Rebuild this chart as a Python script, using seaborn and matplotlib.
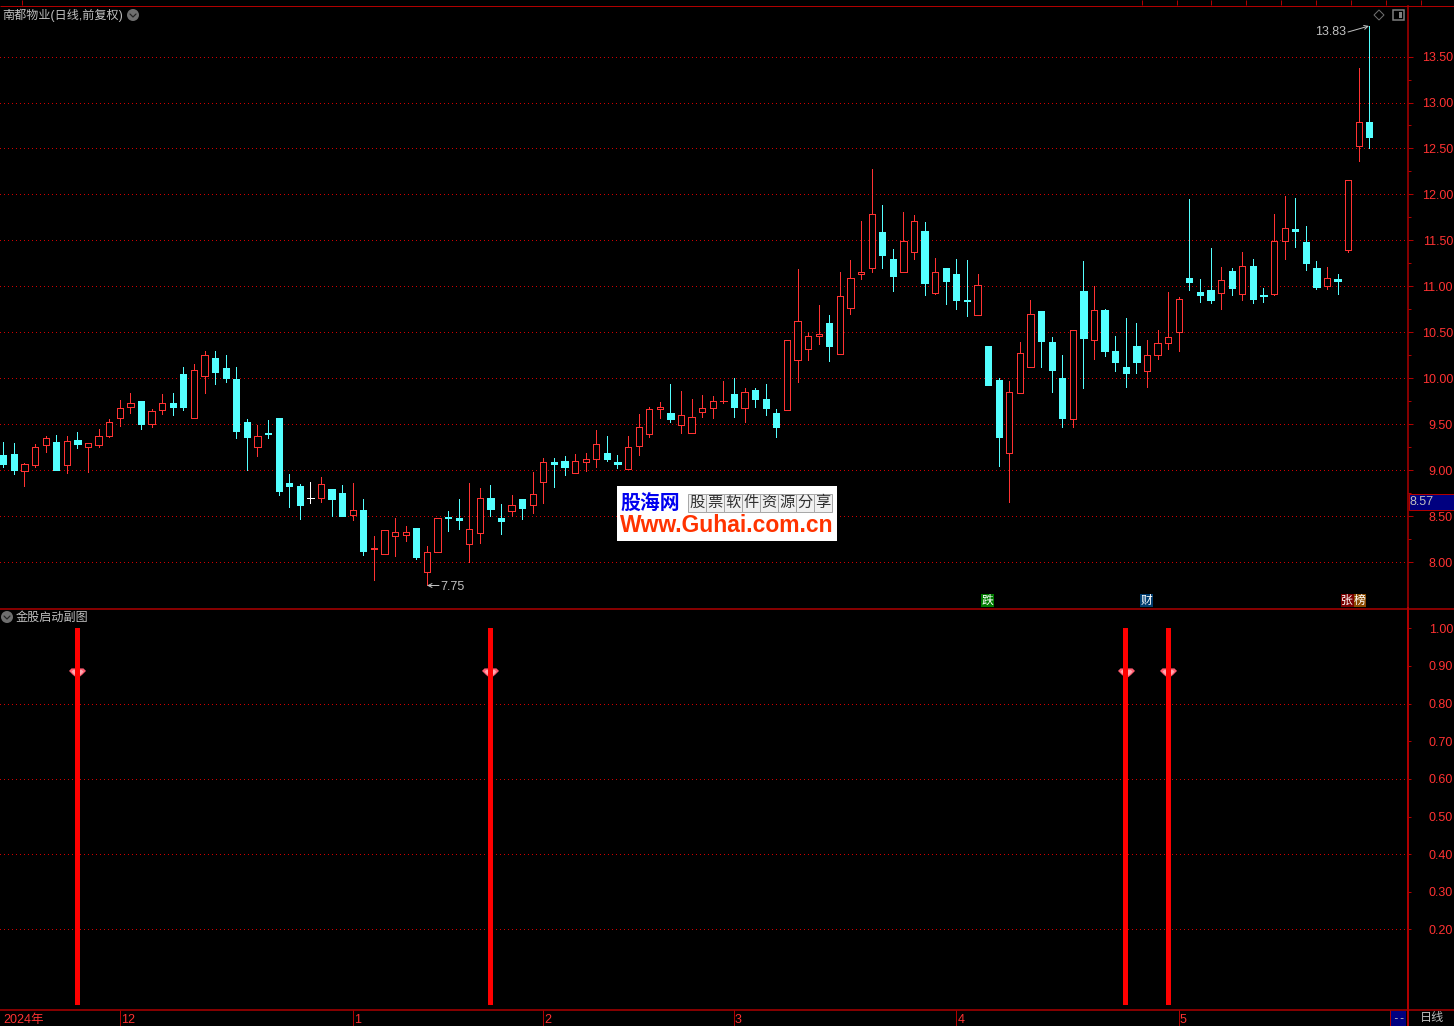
import numpy as np
import pandas as pd
import seaborn as sns
import matplotlib.pyplot as plt
from matplotlib.patches import Circle, Rectangle, Polygon
from matplotlib.path import Path

# Daily candles
OPEN = [
    9.17, 9.18, 8.99, 9.06, 9.28, 9.31, 9.06, 9.33, 9.26, 9.28,
    9.37, 9.57, 9.69, 9.75, 9.50, 9.66, 9.73, 10.05, 9.57, 10.03,
    10.22, 10.11, 9.99, 9.53, 9.25, 9.41, 9.57, 8.86, 8.83, 8.70,
    8.70, 8.80, 8.75, 8.52, 8.57, 8.15, 8.09, 8.29, 8.30, 8.38,
    7.90, 8.11, 8.49, 8.48, 8.20, 8.32, 8.70, 8.48, 8.56, 8.69,
    8.63, 8.88, 9.09, 9.10, 8.97, 9.09, 9.12, 9.19, 9.09, 9.02,
    9.27, 9.40, 9.67, 9.63, 9.49, 9.41, 9.64, 9.68, 9.75, 9.83,
    9.68, 9.88, 9.78, 9.63, 9.66, 10.20, 10.32, 10.46, 10.60, 10.27,
    10.77, 11.14, 11.20, 11.59, 11.30, 11.16, 11.37, 11.60, 10.93, 11.20,
    11.14, 10.85, 10.69, 10.35, 9.98, 9.19, 9.84, 10.13, 10.73, 10.40,
    10.00, 9.56, 10.95, 10.42, 10.74, 10.30, 10.13, 10.35, 10.08, 10.25,
    10.39, 10.51, 11.09, 10.94, 10.96, 10.93, 11.17, 10.92, 11.22, 10.91,
    10.92, 11.49, 11.63, 11.48, 11.20, 11.00, 11.08, 11.40, 12.53, 12.79,
]
CLOSE = [
    9.07, 9.01, 9.07, 9.26, 9.35, 9.00, 9.32, 9.29, 9.30, 9.38,
    9.53, 9.68, 9.73, 9.50, 9.65, 9.73, 9.69, 9.69, 10.09, 10.25,
    10.07, 10.00, 9.43, 9.36, 9.37, 9.40, 8.78, 8.83, 8.63, 8.70,
    8.85, 8.69, 8.51, 8.57, 8.13, 8.16, 8.35, 8.33, 8.33, 8.06,
    8.11, 8.48, 8.48, 8.46, 8.36, 8.70, 8.58, 8.45, 8.62, 8.59,
    8.74, 9.09, 9.07, 9.04, 9.10, 9.12, 9.29, 9.13, 9.07, 9.26,
    9.47, 9.67, 9.69, 9.56, 9.60, 9.58, 9.68, 9.75, 9.76, 9.69,
    9.85, 9.78, 9.68, 9.47, 10.42, 10.63, 10.46, 10.48, 10.35, 10.90,
    11.09, 11.16, 11.79, 11.34, 11.11, 11.49, 11.71, 11.04, 11.16, 11.06,
    10.85, 10.84, 11.02, 9.93, 9.36, 9.85, 10.28, 10.70, 10.41, 10.09,
    9.57, 10.53, 10.44, 10.74, 10.30, 10.18, 10.06, 10.18, 10.25, 10.39,
    10.45, 10.86, 11.05, 10.91, 10.85, 11.07, 10.98, 11.22, 10.86, 10.90,
    11.49, 11.64, 11.60, 11.26, 10.99, 11.09, 11.06, 12.16, 12.79, 12.63,
]
HIGH = [
    9.31, 9.30, 9.08, 9.29, 9.38, 9.39, 9.38, 9.42, 9.30, 9.45,
    9.56, 9.77, 9.84, 9.75, 9.67, 9.83, 9.84, 10.12, 10.16, 10.30,
    10.30, 10.26, 10.13, 9.56, 9.49, 9.55, 9.57, 8.96, 8.85, 8.87,
    8.93, 8.80, 8.84, 8.86, 8.69, 8.29, 8.35, 8.48, 8.40, 8.38,
    8.18, 8.48, 8.56, 8.69, 8.86, 8.81, 8.84, 8.64, 8.73, 8.69,
    8.98, 9.14, 9.14, 9.16, 9.18, 9.19, 9.44, 9.38, 9.17, 9.37,
    9.61, 9.69, 9.74, 9.94, 9.86, 9.78, 9.82, 9.81, 9.97, 10.00,
    9.90, 9.90, 9.94, 9.67, 10.42, 11.19, 10.51, 10.80, 10.69, 11.16,
    11.29, 11.71, 12.28, 11.89, 11.41, 11.81, 11.78, 11.70, 11.31, 11.20,
    11.30, 11.29, 11.14, 10.35, 10.00, 9.97, 10.40, 10.85, 10.73, 10.45,
    10.25, 10.53, 11.28, 11.01, 10.76, 10.46, 10.66, 10.60, 10.42, 10.53,
    10.94, 10.89, 11.95, 11.08, 11.42, 11.21, 11.20, 11.38, 11.30, 10.98,
    11.79, 11.98, 11.96, 11.66, 11.28, 11.21, 11.14, 12.16, 13.38, 13.83,
]
LOW = [
    9.04, 8.96, 8.83, 9.04, 9.20, 9.00, 8.97, 9.24, 8.98, 9.25,
    9.36, 9.48, 9.62, 9.45, 9.47, 9.61, 9.60, 9.66, 9.57, 9.84,
    9.94, 9.96, 9.35, 9.00, 9.16, 9.35, 8.73, 8.60, 8.47, 8.65,
    8.66, 8.51, 8.51, 8.46, 8.08, 7.81, 8.09, 8.07, 8.23, 8.04,
    7.75, 8.11, 8.34, 8.36, 8.01, 8.21, 8.50, 8.31, 8.50, 8.47,
    8.54, 8.65, 8.82, 8.95, 8.97, 8.99, 9.04, 9.10, 9.03, 9.02,
    9.17, 9.36, 9.57, 9.53, 9.41, 9.41, 9.58, 9.57, 9.73, 9.58,
    9.53, 9.69, 9.60, 9.36, 9.66, 9.96, 10.20, 10.38, 10.19, 10.27,
    10.70, 11.08, 11.16, 11.20, 10.95, 11.16, 11.30, 10.91, 10.92, 10.81,
    10.75, 10.68, 10.69, 9.93, 9.05, 8.66, 9.84, 10.13, 10.13, 9.85,
    9.47, 9.47, 9.90, 10.21, 10.24, 10.08, 9.91, 10.06, 9.91, 10.21,
    10.32, 10.30, 10.96, 10.83, 10.82, 10.75, 10.91, 10.85, 10.82, 10.83,
    10.91, 11.30, 11.43, 11.18, 10.97, 10.97, 10.92, 11.38, 12.36, 12.51,
]

# Indicator panel
SIGNAL_INDEX = [7, 46, 106, 110]
SIGNAL_VALUE = [1.0, 1.0, 1.0, 1.0]
GEM_VALUE = [0.88, 0.88, 0.88, 0.88]

# Axis labels
PRICE_TICKS = [8.0, 8.5, 9.0, 9.5, 10.0, 10.5, 11.0, 11.5, 12.0, 12.5, 13.0, 13.5]
PRICE_MINOR = [8.25, 8.75, 9.25, 9.75, 10.25, 10.75, 11.25, 11.75, 12.25, 12.75, 13.25]
SUB_TICKS = [0.2, 0.3, 0.4, 0.5, 0.6, 0.7, 0.8, 0.9, 1.0]
SUB_GRID = [0.2, 0.4, 0.6, 0.8]
MONTH_INDEX = [11, 33, 51, 69, 90, 111]
MONTH_LABELS = ['12', '1', '2', '3', '4', '5']

FIG_W, FIG_H = 1454, 1026
PANEL_W = 1408
PX = 0.72  # one pixel in points at dpi 100
X_LEFT, X_RIGHT = -0.312, 132.65
RED = '#FF3232'
CYAN = '#54FFFF'
LINE_RED = '#B00000'
GRID_RED = '#D00000'
GREY = '#C0C0C0'
DOTS = (0, (1, 3))


def panel(top, bottom):
    """Axes between two pixel rows, left edge to the price axis."""
    ax = fig.add_axes([0, 1 - bottom / FIG_H, PANEL_W / FIG_W, (bottom - top) / FIG_H])
    ax.set_facecolor('black')
    for side in ['top', 'left', 'bottom']:
        ax.spines[side].set_visible(False)
    ax.spines['right'].set_color(LINE_RED)
    ax.spines['right'].set_linewidth(1.5 * PX)
    ax.set_xlim(X_LEFT, X_RIGHT)
    ax.set_xticks([])
    ax.yaxis.tick_right()
    return ax


def right_labels(ax, ticks, tick_len):
    ax.set_yticks(ticks)
    ax.set_yticklabels([f'{t:.2f}' for t in ticks], color=RED, fontsize=9, ha='right')
    ax.tick_params(axis='y', which='major', length=tick_len * PX, width=PX, color=LINE_RED,
                   pad=(45 - tick_len) * PX)
    ax.tick_params(axis='y', which='minor', length=3 * PX, width=PX, color=LINE_RED)


def draw_bodies(ax, part, color, face):
    """Candle bodies: a bar from the lower to the upper edge."""
    if part.empty:
        return
    spacing = np.diff(part['idx']).min() if len(part) > 1 else 1
    sns.barplot(data=part, x='idx', y='height', bottom=part['bottom'].values, native_scale=True,
                width=0.59 / spacing, errorbar=None, saturation=1, color=face, edgecolor=color,
                linewidth=PX, antialiased=False, zorder=4, ax=ax)


sns.set_theme(style='dark', rc={'figure.facecolor': 'black', 'savefig.facecolor': 'black'})
plt.rcParams['font.family'] = ['Liberation Sans', 'Noto Sans CJK SC', 'DejaVu Sans']

candles = pd.DataFrame({'idx': np.arange(len(OPEN)), 'open': OPEN, 'close': CLOSE, 'high': HIGH, 'low': LOW})
candles['kind'] = np.where(candles['close'] > candles['open'], 'up',
                           np.where(candles['close'] < candles['open'], 'down', 'flat'))
candles['bottom'] = candles[['open', 'close']].min(axis=1)
candles['height'] = (candles['close'] - candles['open']).abs()
wicks = candles.melt(id_vars=['idx', 'kind'], value_vars=['high', 'low'], value_name='price')

fig = plt.figure(figsize=(FIG_W / 100, FIG_H / 100), dpi=100, facecolor='black')

# Price panel
main = panel(6, 608)
sns.lineplot(data=wicks, x='idx', y='price', hue='kind', units='idx', estimator=None,
             palette={'up': RED, 'down': CYAN, 'flat': 'white'}, linewidth=PX, legend=False,
             antialiased=False, zorder=3, ax=main)
draw_bodies(main, candles[candles['kind'] == 'up'], RED, 'black')
draw_bodies(main, candles[candles['kind'] == 'down'], CYAN, CYAN)
draw_bodies(main, candles[candles['kind'] == 'flat'], 'white', 'white')
main.set_xlim(X_LEFT, X_RIGHT)
main.set_ylim(7.505, 14.049)
main.set_xlabel('')
main.set_ylabel('')
right_labels(main, PRICE_TICKS, 5)
main.set_yticks(PRICE_MINOR, minor=True)
main.hlines(PRICE_TICKS, X_LEFT, X_RIGHT, colors=GRID_RED, linewidth=PX, linestyles=DOTS,
            antialiased=False, zorder=1)

# Indicator panel
sub = panel(608, 1010)
sub.spines['right'].set_linewidth(2 * PX)
gem = Path([(-1, 0.3), (-0.7, 0.6), (0.7, 0.6), (1, 0.3), (0.55, -0.15), (0, -0.6), (-0.55, -0.15), (-1, 0.3)])
sns.scatterplot(x=SIGNAL_INDEX, y=GEM_VALUE, marker=gem, s=150, color='#FF5C70', linewidth=0,
                legend=False, zorder=2, ax=sub)
sns.scatterplot(x=SIGNAL_INDEX, y=GEM_VALUE, marker=gem, s=75, color='#FFA8B0', linewidth=0,
                legend=False, zorder=2, ax=sub)
sns.barplot(x=SIGNAL_INDEX, y=SIGNAL_VALUE, native_scale=True, width=0.47 / 4, errorbar=None,
            saturation=1, color='#FF0000', linewidth=0, antialiased=False, zorder=3, ax=sub)
sub.set_xlim(X_LEFT, X_RIGHT)
sub.set_ylim(-0.014, 1.054)
right_labels(sub, SUB_TICKS, 3)
sub.hlines(SUB_GRID, X_LEFT, X_RIGHT, colors=GRID_RED, linewidth=PX, linestyles=DOTS,
           antialiased=False, zorder=1)

# Date strip
strip = panel(1010, FIG_H)
strip.set_ylim(0, 1)
strip.set_yticks([])
strip.spines['right'].set_linewidth(2 * PX)
strip.vlines(MONTH_INDEX, 0, 1, colors=LINE_RED, linewidth=PX)
for i, label in zip(MONTH_INDEX, MONTH_LABELS):
    strip.annotate(label, (i, 0.38), xytext=(1 * PX, 0), textcoords='offset points', color=RED,
                   fontsize=9, va='center', ha='left')
strip.annotate('2024年', (0, 0.38), xycoords='axes fraction', xytext=(3 * PX, 0),
               textcoords='offset points', color=RED, fontsize=9, va='center', ha='left')

# Everything else sits on a full figure overlay in pixel coordinates
over = fig.add_axes([0, 0, 1, 1])
over.set_xlim(0, FIG_W)
over.set_ylim(FIG_H, 0)
over.axis('off')
over.patch.set_visible(False)

over.hlines([5.5], 0, FIG_W, colors=LINE_RED, linewidth=PX)
over.hlines([608.5], 0, FIG_W, colors=LINE_RED, linewidth=1.5 * PX)
over.hlines([1010], 0, FIG_W, colors=LINE_RED, linewidth=1.5 * PX)
over.vlines([22, 1142, 1176.5, 1211, 1246, 1281, 1316, 1351, 1386, 1421], 0, 5, colors=LINE_RED, linewidth=PX)

# Panel titles and their round buttons
over.text(2, 15, '南都物业(日线,前复权)', color=GREY, fontsize=8.7, va='center', ha='left')
over.text(16, 617.5, '金股启动副图', color=GREY, fontsize=8.7, va='center', ha='left')
for cx, cy in [(133, 15), (7, 617)]:
    over.add_patch(Circle((cx, cy), 6, color='#6E6E6E', lw=0))
    over.plot([cx - 3, cx, cx + 3], [cy - 1, cy + 2, cy - 1], color='#222222', lw=1.2 * PX)

# Top right icons
over.add_patch(Polygon([(1379, 10), (1384, 15), (1379, 20), (1374, 15)], fill=False, ec='#707070', lw=PX))
over.add_patch(Rectangle((1393, 10), 11, 10, fill=False, ec='#808080', lw=1.5 * PX))
over.add_patch(Rectangle((1399, 12), 3, 6, color='#808080', lw=0))

# High and low labels
over.text(1315, 32, '13.83', color=GREY, fontsize=9, va='center', ha='left')
over.annotate('', xy=(1369, 26), xytext=(1348, 32),
              arrowprops=dict(arrowstyle='->', color=GREY, lw=PX, shrinkA=0, shrinkB=0, mutation_scale=7))
over.text(440, 587, '7.75', color=GREY, fontsize=9, va='center', ha='left')
over.annotate('', xy=(427, 585.5), xytext=(439, 585.5),
              arrowprops=dict(arrowstyle='->', color=GREY, lw=PX, shrinkA=0, shrinkB=0, mutation_scale=7))

# Small coloured tags above the divider
for x0, w, color, label in [(981, 13, '#007A00', '跌'), (1140, 13, '#003C6E', '财'),
                            (1341, 12.5, '#7A0000', '张'), (1353.5, 12.5, '#8A4A00', '榜')]:
    over.add_patch(Rectangle((x0, 594), w, 13, color=color, lw=0))
    over.text(x0 + w / 2, 600.5, label, color='white', fontsize=8.5, va='center', ha='center')

# Current price tag
over.add_patch(Rectangle((1408.5, 493.5), 46, 16, fc='#000080', ec=LINE_RED, lw=PX))
over.text(1409, 502, '8.57', color=GREY, fontsize=9, va='center', ha='left')

# Bottom right corner
over.add_patch(Rectangle((1391, 1011), 15, 15, color='#000080', lw=0))
over.vlines([1390], 1010, FIG_H, colors=LINE_RED, linewidth=PX)
over.text(1398.5, 1018.5, '--', color=GREY, fontsize=8, family='DejaVu Sans Mono', va='center', ha='center')
over.text(1432, 1018.5, '日线', color=GREY, fontsize=8.7, va='center', ha='center')

# Watermark logo
over.add_patch(Rectangle((617, 486), 220, 55, color='white', lw=0, zorder=5))
over.text(650.5, 503, '股海网', color='#0000F0', fontsize=14.3, fontweight='bold',
          va='center', ha='center', zorder=6)
for k, ch in enumerate('股票软件资源分享'):
    over.add_patch(Rectangle((688 + 18 * k, 494), 18, 18, fc='#F0F0F0', ec='#A8A8A8', lw=PX, zorder=6))
    over.text(697 + 18 * k, 503, ch, color='#303030', fontsize=11, va='center', ha='center', zorder=7)
over.text(727, 526, 'Www.Guhai.com.cn', color='#FF3300', fontsize=16.5, fontweight='bold',
          va='center', ha='center', zorder=6)

fig.savefig('out.png', dpi=100, facecolor='black')
